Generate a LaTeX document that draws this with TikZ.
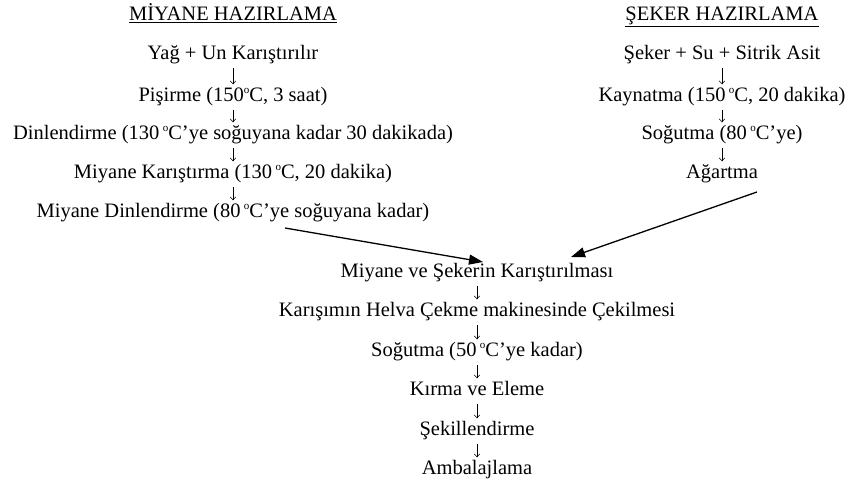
\documentclass[tikz,border=0pt]{standalone}
\usepackage{fontspec}
\setmainfont{Liberation Serif}
\usetikzlibrary{arrows.meta}
\newcommand{\dgr}{\raisebox{0.85ex}{\fontsize{11}{11}\selectfont o}}
\begin{document}
\begin{tikzpicture}[x=1pt,y=-1pt,
  txt/.style={font=\fontsize{20.5}{24}\selectfont, inner sep=1pt, text height=14pt, text depth=5pt, anchor=center},
  hdr/.style={txt},
  sarr/.style={line width=0.55pt, -{Straight Barb[length=3pt,width=5.5pt]}, shorten <=2.5pt, shorten >=2pt},
  barr/.style={line width=1.3pt, -{Triangle[length=14pt,width=10pt]}}]
\useasboundingbox (0,0) rectangle (848,481);
% column coordinates
\coordinate (cl) at (233,0);
\coordinate (cr) at (722,0);
\coordinate (cb) at (477,0);
% left column
\node[hdr] (mh) at (233,16) {\underline{MİYANE HAZIRLAMA}};
\node[txt] (l1) at (233,55) {Yağ + Un Karıştırılır};
\node[txt] (l2) at (233,97) {Pişirme (150\dgr C, 3 saat)};
\node[txt] (l3) at (233,135) {Dinlendirme (130\,\dgr C’ye soğuyana kadar 30 dakikada)};
\node[txt] (l4) at (233,174) {Miyane Karıştırma (130\,\dgr C, 20 dakika)};
\node[txt] (l5) at (233,213) {Miyane Dinlendirme (80\,\dgr C’ye soğuyana kadar)};
% right column
\node[hdr] (sh) at (722,16) {\underline{ŞEKER HAZIRLAMA}};
\node[txt] (r1) at (722,55) {Şeker + Su + Sitrik Asit};
\node[txt] (r2) at (722,97) {Kaynatma (150\,\dgr C, 20 dakika)};
\node[txt] (r3) at (722,135) {Soğutma (80\,\dgr C’ye)};
\node[txt] (r4) at (722,174) {Ağartma};
% bottom column
\node[txt] (b1) at (477,273) {Miyane ve Şekerin Karıştırılması};
\node[txt] (b2) at (477,312) {Karışımın Helva Çekme makinesinde Çekilmesi};
\node[txt] (b3) at (477,352) {Soğutma (50\,\dgr C’ye kadar)};
\node[txt] (b4) at (477,391) {Kırma ve Eleme};
\node[txt] (b5) at (477,431) {Şekillendirme};
\node[txt] (b6) at (477,470) {Ambalajlama};
% small arrows
\foreach \a/\b in {l1/l2,l2/l3,l3/l4,l4/l5}
  \draw[sarr] (\a.south -| cl) -- (\b.north -| cl);
\foreach \a/\b in {r1/r2,r2/r3,r3/r4}
  \draw[sarr] (\a.south -| cr) -- (\b.north -| cr);
\foreach \a/\b in {b1/b2,b2/b3,b3/b4,b4/b5,b5/b6}
  \draw[sarr] (\a.south -| cb) -- (\b.north -| cb);
% big arrows
\coordinate (ls) at (285,228);
\coordinate (le) at (483,262);
\coordinate (rs) at (757,192);
\coordinate (re) at (571,257);
\draw[barr] (ls) -- (le);
\draw[barr] (rs) -- (re);
\end{tikzpicture}
\end{document}
